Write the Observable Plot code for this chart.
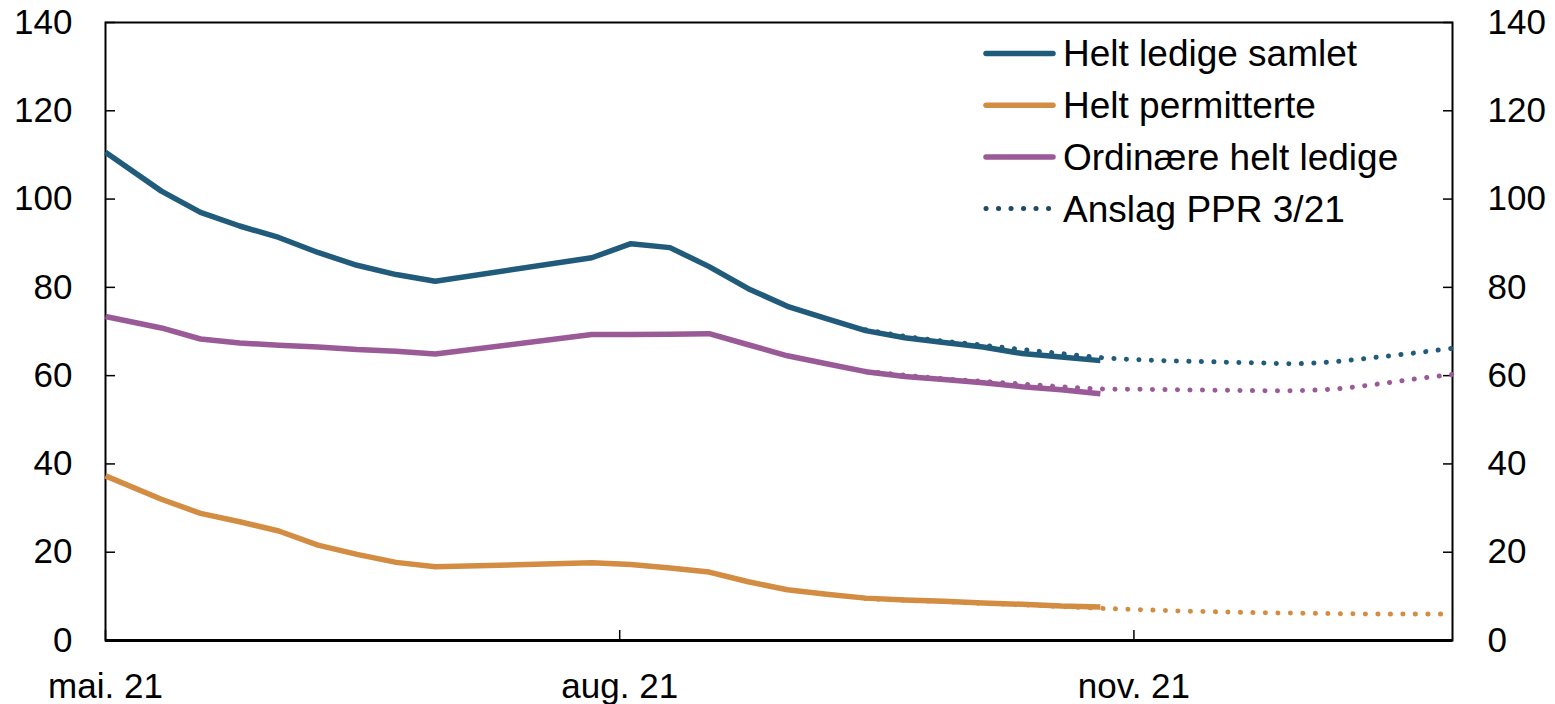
<!DOCTYPE html>
<html>
<head>
<meta charset="utf-8">
<script src="https://cdn.jsdelivr.net/npm/d3@7"></script>
<script src="https://cdn.jsdelivr.net/npm/@observablehq/plot@0.6"></script>
<style>
  html, body { margin: 0; padding: 0; background: #fff; }
  #chart { position: relative; width: 1555px; height: 704px; }
</style>
</head>
<body>
<div id="chart"></div>
<script>
// ---- Data (thousands of persons) ----
const actualDates = ["2021-05-01","2021-05-11","2021-05-18","2021-05-25","2021-06-01","2021-06-08","2021-06-15","2021-06-22","2021-06-29",
  "2021-07-27","2021-08-03","2021-08-10","2021-08-17","2021-08-24","2021-08-31","2021-09-07","2021-09-14","2021-09-21","2021-09-28",
  "2021-10-05","2021-10-12","2021-10-19","2021-10-26"];
const heltLedigeSamlet = [110.6,101.8,97.0,93.9,91.3,87.9,85.0,82.9,81.4,86.7,89.9,89.0,84.7,79.7,75.7,72.9,70.2,68.6,67.5,66.5,65.0,64.2,63.4];
const heltPermitterte  = [37.3,32.0,28.8,26.9,24.8,21.6,19.5,17.7,16.7,17.6,17.2,16.4,15.5,13.3,11.5,10.5,9.6,9.2,8.9,8.5,8.2,7.8,7.6];
const ordinaereLedige  = [73.4,70.8,68.3,67.4,66.9,66.5,65.9,65.5,64.9,69.3,69.3,69.4,69.5,67.0,64.5,62.7,60.9,59.8,59.1,58.4,57.5,56.8,55.9];

const forecastDates = ["2021-09-14","2021-09-21","2021-09-28","2021-10-05","2021-10-12","2021-10-19","2021-10-26","2021-11-02",
  "2021-11-09","2021-11-16","2021-11-23","2021-11-30","2021-12-07","2021-12-14","2021-12-21","2021-12-28"];
const anslagSamlet      = [70.4,68.9,67.8,66.9,65.9,65.0,64.1,63.6,63.3,63.1,62.9,62.7,63.2,64.1,65.1,66.2];
const anslagPermitterte = [9.5,9.1,8.8,8.4,8.1,7.7,7.3,7.0,6.7,6.5,6.3,6.2,6.1,6.0,6.0,6.0];
const anslagOrdinaere   = [61.0,60.1,59.3,58.7,58.1,57.5,57.0,56.9,56.8,56.7,56.6,56.6,57.0,58.0,59.2,60.3];

const seriesNames = ["Helt ledige samlet","Helt permitterte","Ordinære helt ledige"];
const forecastName = "Anslag PPR 3/21";
const colors = ["#215b7b","#d38d42","#9a5a97"];

const xDomain = ["2021-05-01","2021-12-28"];
const xTickDates = ["2021-05-01","2021-08-01","2021-11-01"];
const xTickLabels = ["mai. 21","aug. 21","nov. 21"];
const yTicks = [0,20,40,60,80,100,120,140];

// ---- Build tables ----
const parse = d3.utcParse("%Y-%m-%d");
const actualSeries = [heltLedigeSamlet, heltPermitterte, ordinaereLedige];
const forecastSeries = [anslagSamlet, anslagPermitterte, anslagOrdinaere];
const actual = [], forecast = [];
seriesNames.forEach((name, i) => {
  actualSeries[i].forEach((v, j) => actual.push({date: parse(actualDates[j]), value: v, series: name}));
  forecastSeries[i].forEach((v, j) => forecast.push({date: parse(forecastDates[j]), value: v, series: name}));
});
const tickDates = xTickDates.map(parse);
const labelFor = new Map(tickDates.map((d, i) => [+d, xTickLabels[i]]));

const FONT = "'Liberation Sans', Arial, Helvetica, sans-serif";

const chart = Plot.plot({
  width: 1555,
  height: 704,
  marginLeft: 105,
  marginRight: 103,
  marginTop: 22,
  marginBottom: 64,
  style: {fontFamily: FONT, fontSize: "35px", color: "#000", background: "#fff"},
  x: {type: "utc", domain: xDomain.map(parse)},
  y: {domain: [0, 140]},
  color: {domain: seriesNames, range: colors},
  marks: [
    Plot.frame({stroke: "#000", strokeWidth: 2}),
    Plot.ruleY([0], {stroke: "#000", strokeWidth: 3}),
    Plot.axisY(yTicks, {anchor: "left", tickSize: -10, tickPadding: 43, strokeWidth: 1.5, label: null, fontSize: 35}),
    Plot.axisY(yTicks, {anchor: "right", tickSize: -10, tickPadding: 45, strokeWidth: 1.5, label: null, fontSize: 35, textAnchor: "start"}),
    Plot.axisX(tickDates, {anchor: "bottom", tickSize: -10, tickPadding: 43, strokeWidth: 1.5, label: null, fontSize: 35,
      tickFormat: d => labelFor.get(+d)}),
    Plot.line(actual, {x: "date", y: "value", z: "series", stroke: "series", strokeWidth: 5.5, strokeLinejoin: "round", strokeLinecap: "butt"}),
    Plot.line(forecast, {x: "date", y: "value", z: "series", stroke: "series", strokeWidth: 5, curve: "catmull-rom",
      strokeDasharray: "0.1 12.4", strokeLinecap: "round"})
  ]
});
document.getElementById("chart").appendChild(chart);

// ---- Legend (inside plot area, top right) ----
const svg = d3.select(chart);
const legend = svg.append("g").attr("font-family", FONT).attr("font-size", 37).attr("text-anchor", "start");
const legendItems = [
  {label: seriesNames[0], color: colors[0], dotted: false},
  {label: seriesNames[1], color: colors[1], dotted: false},
  {label: seriesNames[2], color: colors[2], dotted: false},
  {label: forecastName, color: "#1d4a66", dotted: true}
];
legendItems.forEach((it, i) => {
  const cy = 53.5 + i * 51.7;
  legend.append("line")
    .attr("x1", 986).attr("x2", 1053).attr("y1", cy).attr("y2", cy)
    .attr("stroke", it.color).attr("stroke-width", it.dotted ? 5 : 5.5)
    .attr("stroke-linecap", "round")
    .attr("stroke-dasharray", it.dotted ? "0.1 12.4" : null);
  legend.append("text")
    .attr("x", 1063).attr("y", cy).attr("dy", "0.35em")
    .attr("text-anchor", "start")
    .attr("fill", "#000").text(it.label);
});
</script>
</body>
</html>
